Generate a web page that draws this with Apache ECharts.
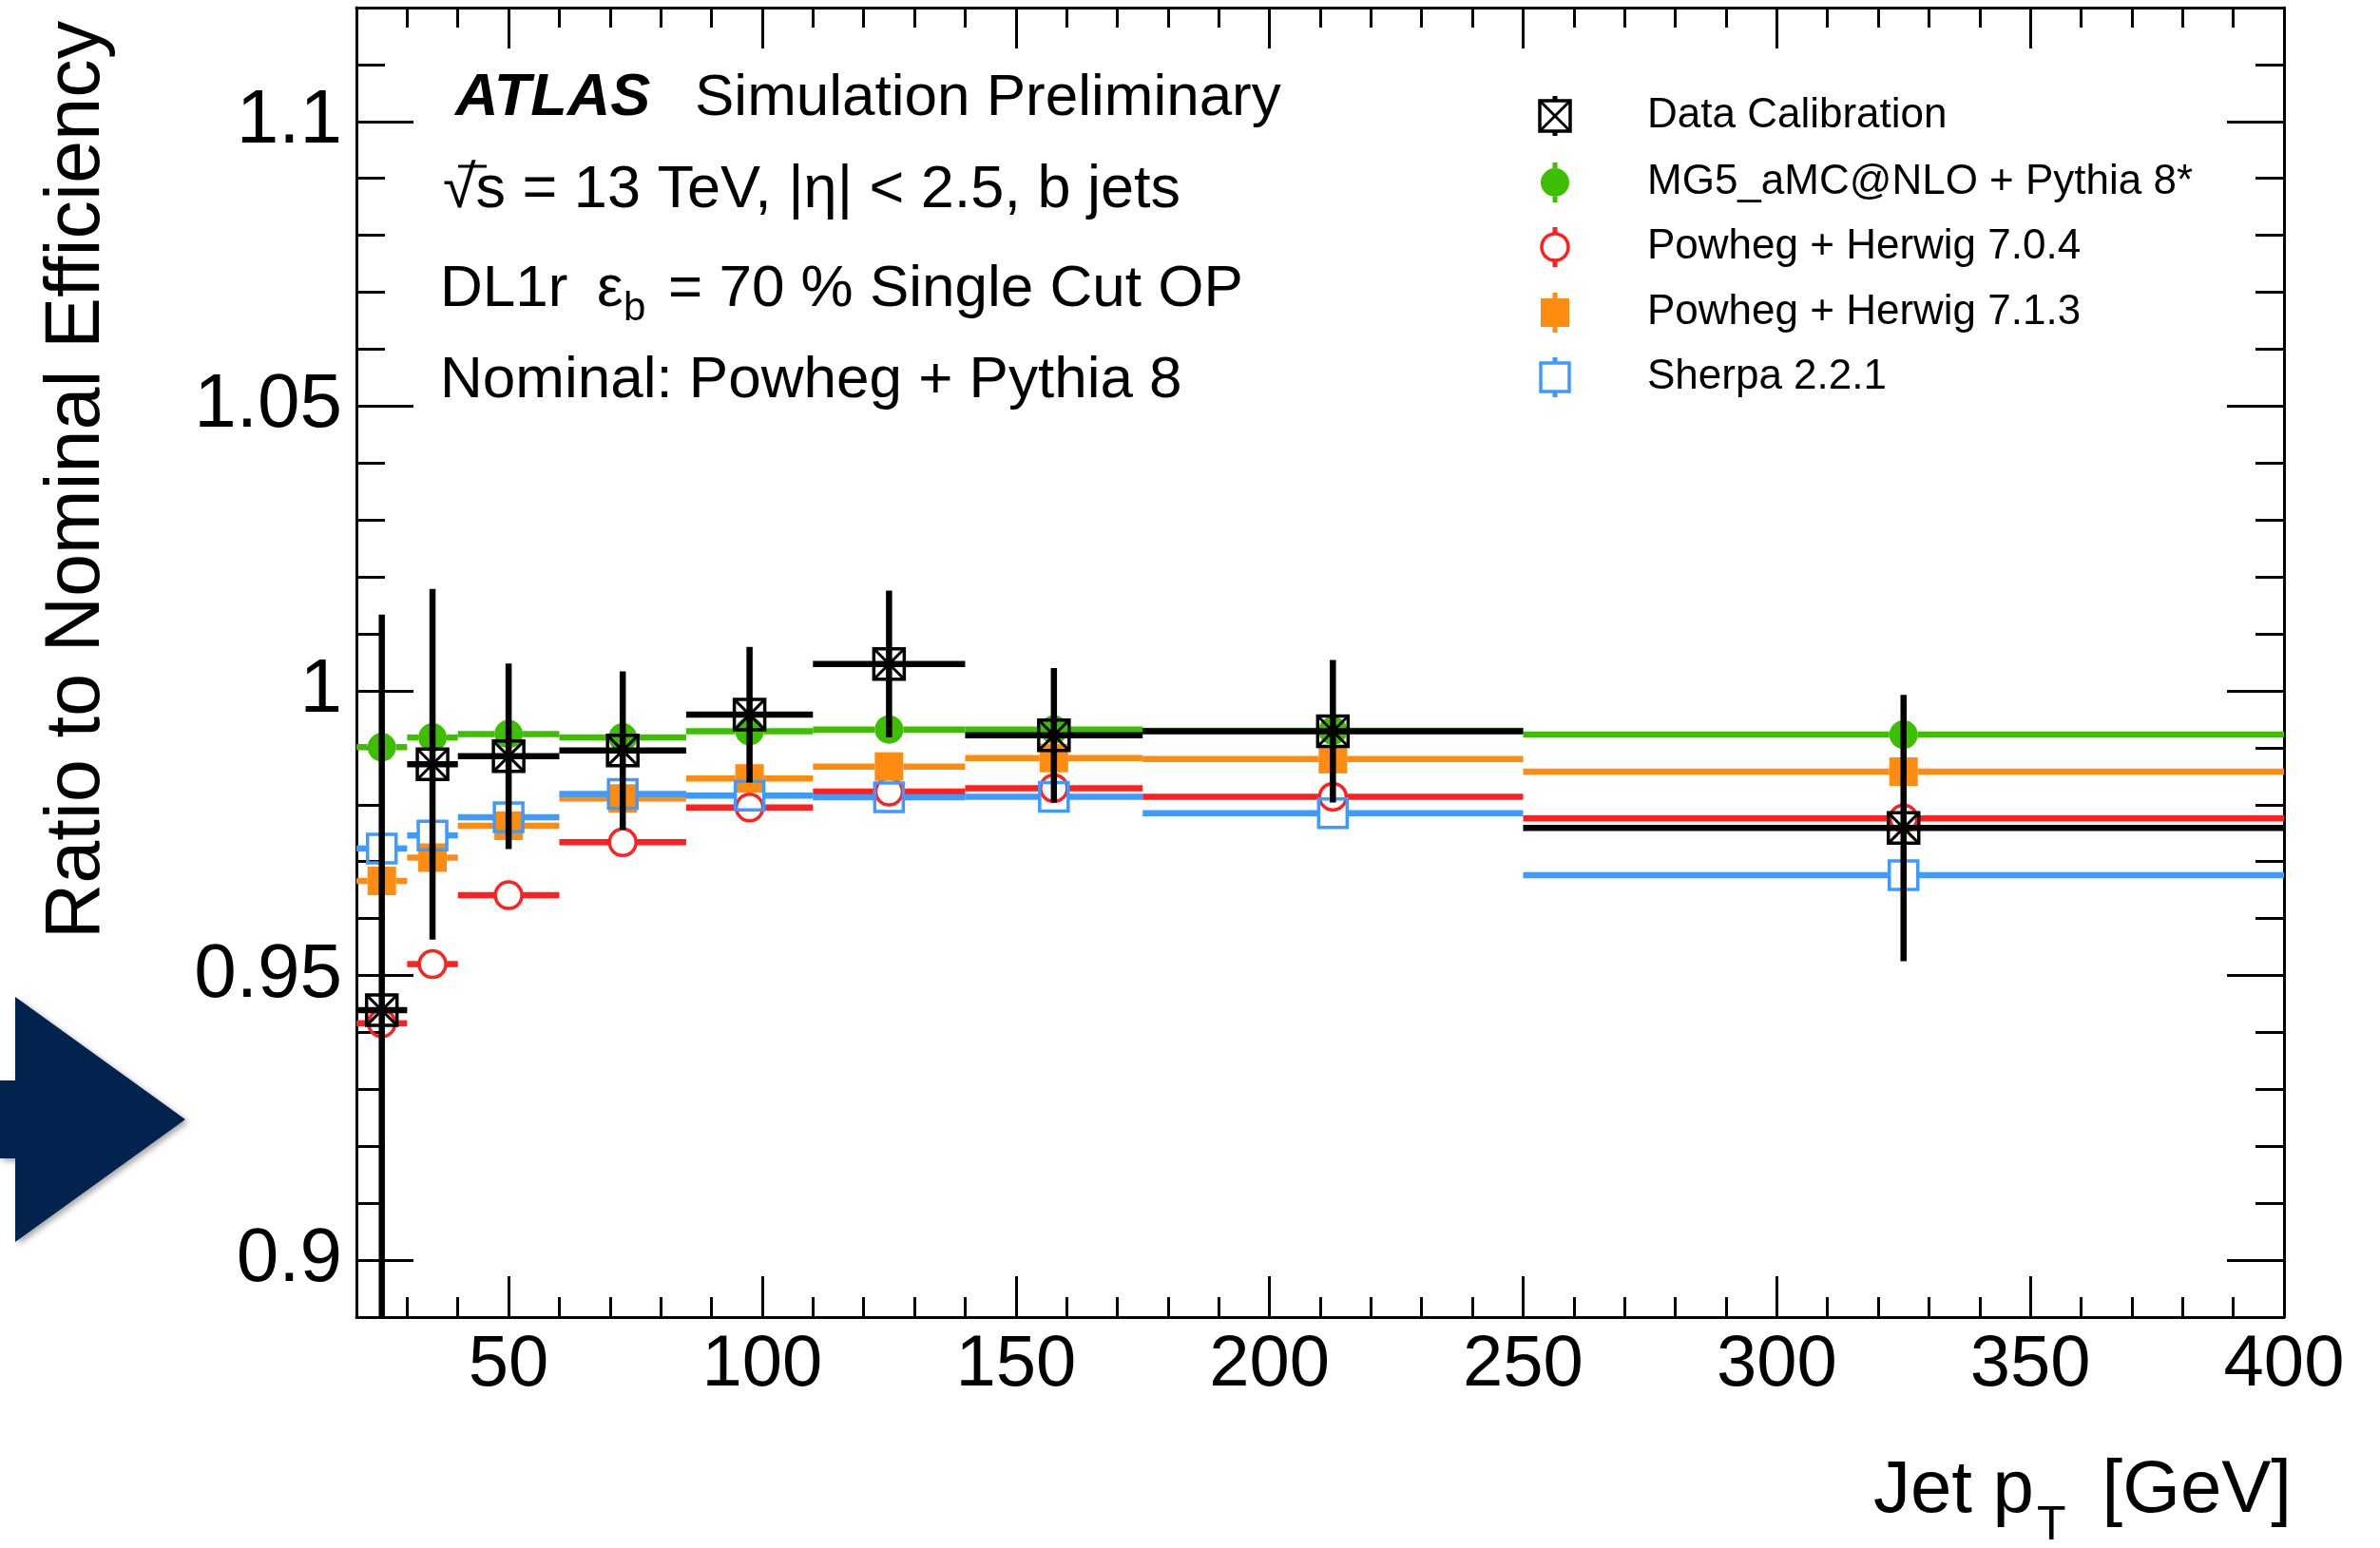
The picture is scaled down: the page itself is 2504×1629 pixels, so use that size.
<!DOCTYPE html>
<html>
<head>
<meta charset="utf-8">
<script src="https://cdn.jsdelivr.net/npm/echarts@6/dist/echarts.min.js"></script>
<style>
  html, body { margin: 0; padding: 0; background: #fff; }
  #chart { width: 2504px; height: 1629px; }
</style>
</head>
<body>
<div id="chart"></div>
<script>
// jet pT bins [GeV]
var binLow = [20, 30, 40, 60, 85, 110, 140, 175, 250]
var binHigh = [30, 40, 60, 85, 110, 140, 175, 250, 400]
var binCenter = [25, 35, 50, 72.5, 97.5, 125, 157.5, 212.5, 325]

// ratio to nominal efficiency
var dataCalib = [0.9439, 0.9871, 0.9885, 0.9895, 0.9958, 1.0047, 0.9922, 0.9929, 0.9759]
var dataCalibErr = [0.0695, 0.0308, 0.0163, 0.0139, 0.0119, 0.0129, 0.0118, 0.0125, 0.0234]
var mg5Pythia = [0.9901, 0.9918, 0.9924, 0.9918, 0.9929, 0.9932, 0.9932, 0.9930, 0.9923]
var herwig704 = [0.9416, 0.9520, 0.9641, 0.9734, 0.9795, 0.9823, 0.9829, 0.9814, 0.9776]
var herwig713 = [0.9666, 0.9707, 0.9763, 0.9811, 0.9846, 0.9867, 0.9882, 0.9880, 0.9858]
var sherpa221 = [0.9723, 0.9746, 0.9778, 0.9819, 0.9816, 0.9813, 0.9814, 0.9785, 0.9676]

var xMajorTicks = [50, 100, 150, 200, 250, 300, 350, 400]
var yMajorTicks = [0.9, 0.95, 1, 1.05, 1.1]

var legendNames = ['Data Calibration', 'MG5_aMC@NLO + Pythia 8*', 'Powheg + Herwig 7.0.4', 'Powheg + Herwig 7.1.3', 'Sherpa 2.2.1']
var legendKinds = ['data', 'dot', 'ring', 'box', 'openbox']
var legendColors = ['#000000', '#3dbf00', '#ff2020', '#ff8c12', '#3d9bff']

var FONT = '"Liberation Sans", Arial, Helvetica, sans-serif'
var LW = 6.5

function toItems(vals, errs) {
  return binLow.map(function (lo, i) {
    return [lo, binHigh[i], binCenter[i], vals[i], errs ? errs[i] : 0]
  })
}

// marker drawing, shared by plot and legend
function markerShape(kind, color, x, y) {
  var out = []
  if (kind === 'dot') {
    out.push({ type: 'circle', shape: { cx: x, cy: y, r: 15 }, style: { fill: color } })
  } else if (kind === 'ring') {
    out.push({ type: 'circle', shape: { cx: x, cy: y, r: 14 }, style: { fill: 'none', stroke: color, lineWidth: 3.5 } })
  } else if (kind === 'box') {
    out.push({ type: 'rect', shape: { x: x - 15, y: y - 15, width: 30, height: 30 }, style: { fill: color } })
  } else if (kind === 'openbox') {
    out.push({ type: 'rect', shape: { x: x - 15, y: y - 15, width: 30, height: 30 }, style: { fill: 'none', stroke: color, lineWidth: 3.5 } })
  } else {
    var s = { stroke: color, lineWidth: 3 }
    out.push({ type: 'rect', shape: { x: x - 16, y: y - 16, width: 32, height: 32 }, style: { fill: 'none', stroke: color, lineWidth: 3.5 } })
    out.push({ type: 'line', shape: { x1: x - 16, y1: y - 16, x2: x + 16, y2: y + 16 }, style: s })
    out.push({ type: 'line', shape: { x1: x - 16, y1: y + 16, x2: x + 16, y2: y - 16 }, style: s })
  }
  return out
}

function mcRender(kind, color) {
  return function (params, api) {
    var v = api.value(3)
    var a = api.coord([api.value(0), v])
    var b = api.coord([api.value(1), v])
    var c = api.coord([api.value(2), v])
    var r = 15
    var ls = { stroke: color, lineWidth: LW }
    var children = [
      { type: 'line', shape: { x1: a[0], y1: c[1], x2: c[0] - r, y2: c[1] }, style: ls },
      { type: 'line', shape: { x1: c[0] + r, y1: c[1], x2: b[0], y2: c[1] }, style: ls }
    ]
    return { type: 'group', children: children.concat(markerShape(kind, color, c[0], c[1])) }
  }
}

function dataRender(params, api) {
  var v = api.value(3)
  var e = api.value(4)
  var cs = params.coordSys
  var a = api.coord([api.value(0), v])
  var b = api.coord([api.value(1), v])
  var c = api.coord([api.value(2), v])
  var top = Math.max(api.coord([api.value(2), v + e])[1], cs.y)
  var bot = Math.min(api.coord([api.value(2), v - e])[1], cs.y + cs.height)
  var ls = { stroke: '#000', lineWidth: LW }
  var children = [
    { type: 'line', shape: { x1: a[0], y1: c[1], x2: b[0], y2: c[1] }, style: ls },
    { type: 'line', shape: { x1: c[0], y1: top, x2: c[0], y2: bot }, style: ls }
  ]
  return { type: 'group', children: children.concat(markerShape('data', '#000', c[0], c[1])) }
}

function legendGraphics() {
  var g = []
  var rowsY = [122, 192, 260, 329, 397]
  var mx = 1636
  legendNames.forEach(function (name, i) {
    var y = rowsY[i]
    var col = legendColors[i]
    var stub = { stroke: col, lineWidth: 5 }
    g.push({ type: 'line', shape: { x1: mx, y1: y - 21, x2: mx, y2: y - 15 }, style: stub })
    g.push({ type: 'line', shape: { x1: mx, y1: y + 15, x2: mx, y2: y + 21 }, style: stub })
    markerShape(legendKinds[i], col, mx, y).forEach(function (el) { g.push(el) })
    g.push({ type: 'text', x: 1733, y: y, style: { text: name, font: '44px ' + FONT, fill: '#000', verticalAlign: 'middle' } })
  })
  return g
}

function txt(str, x, y, size, extra) {
  var st = { text: str, font: (extra || '') + ' ' + size + 'px ' + FONT, fill: '#000', verticalAlign: 'middle' }
  return { type: 'text', x: x, y: y, style: st }
}

var chart = echarts.init(document.getElementById('chart'))

function majorAxisX(pos, labels) {
  return {
    type: 'value', min: 20, max: 400, position: pos,
    axisLine: { show: true, onZero: false, lineStyle: { color: '#000', width: 3 } },
    axisTick: { show: true, inside: true, length: 43, customValues: xMajorTicks, lineStyle: { color: '#000', width: 3 } },
    axisLabel: labels ? { show: true, customValues: xMajorTicks, fontSize: 76, fontFamily: FONT, color: '#000', margin: 13, showMaxLabel: true } : { show: false },
    splitLine: { show: false }
  }
}
function minorAxisX(pos) {
  return {
    type: 'value', min: 20, max: 400, interval: 10, position: pos,
    axisLine: { show: false },
    axisTick: { show: true, inside: true, length: 21, lineStyle: { color: '#000', width: 3 } },
    axisLabel: { show: false }, splitLine: { show: false }
  }
}
function majorAxisY(pos, labels) {
  return {
    type: 'value', min: 0.89, max: 1.12, position: pos,
    axisLine: { show: true, onZero: false, lineStyle: { color: '#000', width: 3 } },
    axisTick: { show: true, inside: true, length: 60, customValues: yMajorTicks, lineStyle: { color: '#000', width: 3 } },
    axisLabel: labels ? { show: true, customValues: yMajorTicks, fontSize: 80, fontFamily: FONT, color: '#000', margin: 15 } : { show: false },
    splitLine: { show: false }
  }
}
function minorAxisY(pos) {
  return {
    type: 'value', min: 0.89, max: 1.12, interval: 0.01, position: pos,
    axisLine: { show: false },
    axisTick: { show: true, inside: true, length: 30, lineStyle: { color: '#000', width: 3 } },
    axisLabel: { show: false }, splitLine: { show: false }
  }
}

var option = {
  animation: false,
  backgroundColor: '#fff',
  grid: { left: 375, top: 8, width: 2028, height: 1378, containLabel: false },
  xAxis: [majorAxisX('bottom', true), minorAxisX('bottom'), majorAxisX('top', false), minorAxisX('top')],
  yAxis: [majorAxisY('left', true), minorAxisY('left'), majorAxisY('right', false), minorAxisY('right')],
  series: [
    { name: legendNames[1], type: 'custom', silent: true, renderItem: mcRender('dot', legendColors[1]), encode: { x: [0, 1, 2], y: 3 }, data: toItems(mg5Pythia) },
    { name: legendNames[2], type: 'custom', silent: true, renderItem: mcRender('ring', legendColors[2]), encode: { x: [0, 1, 2], y: 3 }, data: toItems(herwig704) },
    { name: legendNames[3], type: 'custom', silent: true, renderItem: mcRender('box', legendColors[3]), encode: { x: [0, 1, 2], y: 3 }, data: toItems(herwig713) },
    { name: legendNames[4], type: 'custom', silent: true, renderItem: mcRender('openbox', legendColors[4]), encode: { x: [0, 1, 2], y: 3 }, data: toItems(sherpa221) },
    { name: legendNames[0], type: 'custom', silent: true, renderItem: dataRender, encode: { x: [0, 1, 2], y: 3 }, data: toItems(dataCalib, dataCalibErr) }
  ],
  graphic: [
    // slide arrow on the left
    { type: 'polygon', shape: { points: [[0, 1137], [16, 1137], [16, 1049], [195, 1178], [16, 1307], [16, 1219], [0, 1219]] },
      style: { fill: '#03234f', shadowBlur: 6, shadowColor: 'rgba(0,0,0,0.35)', shadowOffsetX: 3, shadowOffsetY: 3 } },
    // axis titles
    { type: 'text', x: 82, y: 505, rotation: Math.PI / 2, style: { text: 'Ratio to Nominal Efficiency', font: '81px ' + FONT, fill: '#000', align: 'center', verticalAlign: 'middle' } },
    { type: 'text', x: 2140, y: 1569, style: { text: 'Jet p', font: '78px ' + FONT, fill: '#000', align: 'right', verticalAlign: 'middle' } },
    { type: 'text', x: 2143, y: 1606, style: { text: 'T', font: '50px ' + FONT, fill: '#000', align: 'left', verticalAlign: 'middle' } },
    { type: 'text', x: 2411, y: 1569, style: { text: '[GeV]', font: '78px ' + FONT, fill: '#000', align: 'right', verticalAlign: 'middle' } },
    // ATLAS label block
    txt('ATLAS', 479, 104, 63, 'italic bold'),
    txt('Simulation Preliminary', 731, 104, 62),
    txt('\u221as = 13 TeV, |\u03b7| < 2.5, b jets', 466, 201, 63),
    { type: 'line', shape: { x1: 482, y1: 175, x2: 512, y2: 175 }, style: { stroke: '#000', lineWidth: 3 } },
    txt('DL1r', 463, 305, 62),
    txt('\u03b5', 628, 305, 62),
    txt('b', 656, 325, 42),
    txt('= 70 % Single Cut OP', 703, 305, 62),
    txt('Nominal: Powheg + Pythia 8', 463, 401, 62)
  ].concat(legendGraphics())
}

chart.setOption(option, true)
</script>
</body>
</html>
